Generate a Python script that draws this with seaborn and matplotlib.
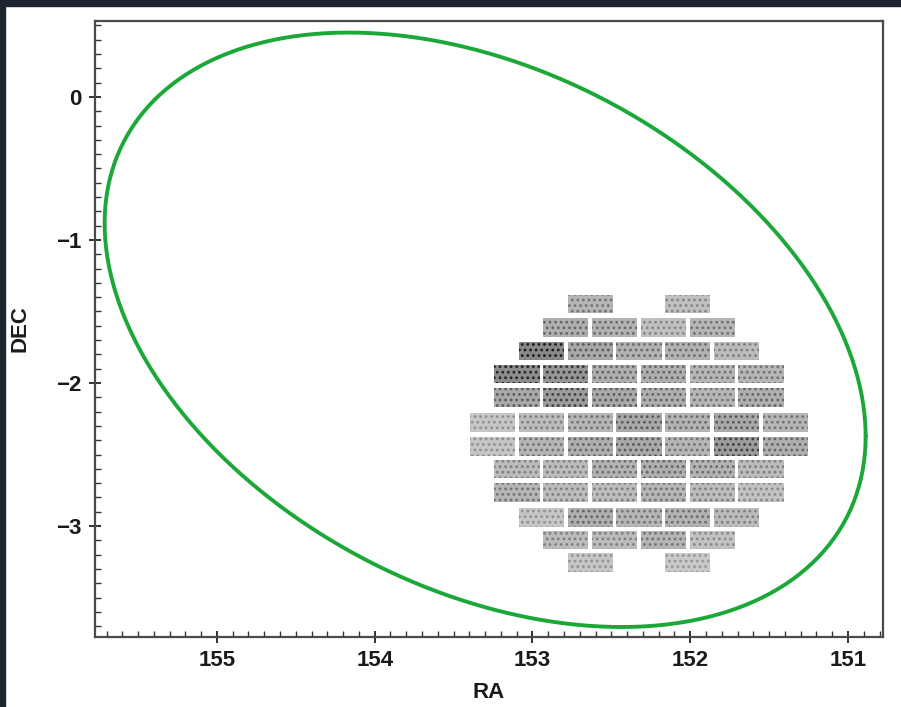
import numpy as np
import pandas as pd
import matplotlib
matplotlib.use("Agg")
import matplotlib.pyplot as plt
from matplotlib.patches import Rectangle
from matplotlib.ticker import MultipleLocator
import seaborn as sns

# ---------------- data ----------------
# Ellipse (green contour) parameters, in data units (RA, DEC)
ELL_RA_CENTER = 153.30
ELL_DEC_CENTER = -1.628
ELL_RA_AMP = 2.412      # RA = c - amp*cos t
ELL_DEC_COS = 0.745     # DEC = c - cos_term*cos t - sin_term*sin t
ELL_DEC_SIN = 1.940

# CCD chip grid: column centres (RA, half-step index 0..12) and row centres (DEC)
COL_RA = [153.253, 153.098, 152.944, 152.789, 152.634, 152.480, 152.325,
          152.170, 152.016, 151.861, 151.706, 151.552, 151.397]
ROW_DEC = [-1.448, -1.612, -1.776, -1.937, -2.101, -2.276,
           -2.441, -2.601, -2.766, -2.941, -3.098, -3.255]
ROW_COLS = [
    [4, 8],
    [3, 5, 7, 9],
    [2, 4, 6, 8, 10],
    [1, 3, 5, 7, 9, 11],
    [1, 3, 5, 7, 9, 11],
    [0, 2, 4, 6, 8, 10, 12],
    [0, 2, 4, 6, 8, 10, 12],
    [1, 3, 5, 7, 9, 11],
    [1, 3, 5, 7, 9, 11],
    [2, 4, 6, 8, 10],
    [3, 5, 7, 9],
    [4, 8],
]
# source density (darkness) per chip, row by row
ROW_DENSITY = [
    [0.38, 0.33],
    [0.42, 0.40, 0.33, 0.38],
    [0.62, 0.45, 0.40, 0.40, 0.35],
    [0.60, 0.55, 0.42, 0.42, 0.38, 0.38],
    [0.45, 0.52, 0.45, 0.42, 0.38, 0.42],
    [0.30, 0.35, 0.38, 0.45, 0.40, 0.45, 0.38],
    [0.30, 0.38, 0.42, 0.45, 0.38, 0.52, 0.42],
    [0.35, 0.35, 0.40, 0.42, 0.40, 0.35],
    [0.38, 0.35, 0.35, 0.38, 0.35, 0.32],
    [0.30, 0.42, 0.38, 0.40, 0.35],
    [0.35, 0.35, 0.38, 0.32],
    [0.30, 0.28],
]
CHIP_W = 0.287
CHIP_H = 0.132

X_MAJOR = [155, 154, 153, 152, 151]
Y_MAJOR = [0, -1, -2, -3]

# ---------------- figure ----------------
sns.set_theme(style="ticks")
plt.rcParams["font.family"] = ["Liberation Sans", "DejaVu Sans"]
plt.rcParams["hatch.linewidth"] = 1.2

W, H = 901, 707
fig = plt.figure(figsize=(W / 100, H / 100), dpi=100)
fig.patch.set_facecolor("white")
ax = fig.add_axes([95 / W, 1 - 637 / H, (883 - 95) / W, (637 - 21) / H])

# dark frame strips (top and left)
fig.patches.append(Rectangle((0, 0), 5 / W, 1, transform=fig.transFigure,
                             color="#1c2331", zorder=10))
fig.patches.append(Rectangle((0, 1 - 6 / H), 1, 6 / H, transform=fig.transFigure,
                             color="#1c2331", zorder=10))

# chips
xs, ys, face, speck = [], [], [], []
for dec, cols, dens in zip(ROW_DEC, ROW_COLS, ROW_DENSITY):
    for c, d in zip(cols, dens):
        xs.append(COL_RA[c])
        ys.append(dec)
        g = 1 - 0.75 * d
        face.append((g, g, g))
        h = max(0.0, 1 - 1.45 * d)
        speck.append((h, h, h))
ys = np.array(ys)
ax.bar(xs, CHIP_H, width=CHIP_W, bottom=ys - CHIP_H / 2, color=face,
       edgecolor=speck, linewidth=0, hatch="...", zorder=2)

# ellipse
t = np.linspace(0, 2 * np.pi, 400)
ell = pd.DataFrame({
    "RA": ELL_RA_CENTER - ELL_RA_AMP * np.cos(t),
    "DEC": ELL_DEC_CENTER - ELL_DEC_COS * np.cos(t) - ELL_DEC_SIN * np.sin(t),
})
sns.lineplot(data=ell, x="RA", y="DEC", sort=False, estimator=None,
             color="#1ca838", linewidth=2.8, ax=ax, zorder=3)

ax.set_xlim(155.773, 150.778)
ax.set_ylim(-3.776, 0.531)

ax.set_xticks(X_MAJOR)
ax.set_yticks(Y_MAJOR)
ax.xaxis.set_minor_locator(MultipleLocator(0.1))
ax.yaxis.set_minor_locator(MultipleLocator(0.1))
ax.tick_params(which="major", direction="inout", length=9, width=1.3,
               color="#222222", labelsize=16, pad=5, top=False, right=False)
ax.tick_params(which="minor", direction="in", length=4, width=1.0,
               color="#333333", top=False, right=False)
for lab in ax.get_xticklabels() + ax.get_yticklabels():
    lab.set_fontweight("bold")
    lab.set_color("#1a1a1a")

for s in ax.spines.values():
    s.set_color("#4a4a4a")
    s.set_linewidth(1.6)

ax.set_xlabel("RA", fontsize=16, fontweight="bold", labelpad=8, color="#1a1a1a")
ax.set_ylabel("DEC", fontsize=16, fontweight="bold", labelpad=19, color="#1a1a1a")

fig.savefig("out.png", dpi=100)
